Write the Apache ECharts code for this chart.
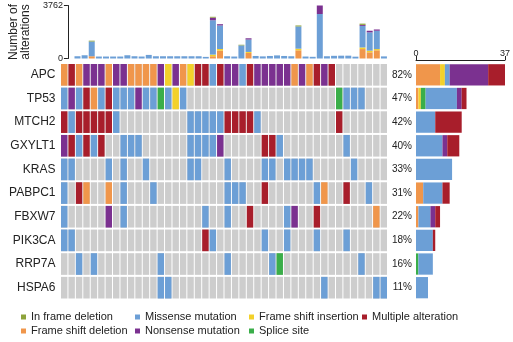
<!DOCTYPE html>
<html>
<head>
<meta charset="utf-8">
<script src="https://cdn.jsdelivr.net/npm/echarts@6/dist/echarts.min.js"></script>
<style>
html,body{margin:0;padding:0;background:#fff}
#chart{width:513px;height:342px}
</style>
</head>
<body>
<div id="chart"></div>
<script>
// Genes (rows) and their alteration frequency labels
const genes = ['APC', 'TP53', 'MTCH2', 'GXYLT1', 'KRAS', 'PABPC1', 'FBXW7', 'PIK3CA', 'RRP7A', 'HSPA6'];
const pctLabels = ['82%', '47%', '42%', '40%', '33%', '31%', '22%', '18%', '16%', '11%'];

// Per-sample alteration codes, one character per sample:
// F frame shift deletion, I frame shift insertion, M missense mutation,
// N nonsense mutation, X multiple alteration, S splice site, . none
const APC    = 'FXFNNNFNNFFFFNINFIXXMXNNMXNNNNNFNFXNX.......'.split('');
const TP53   = 'MNMXFMXMMMNMMSMIM....................SMMM...'.split('');
const MTCH2  = 'XMXXXXXM.........MMMMMXXXXM..........X......'.split('');
const GXYLT1 = 'NXMXMX..MMM......MMMMN.....XXM........M.....'.split('');
const KRAS   = 'MM....M.M..M.....MM...M....MM.MMMM.....M....'.split('');
const PABPC1 = 'M.XF..F.M...M.........MMM..X......MF..X..M..'.split('');
const FBXW7  = 'M.....N.M..........M..M..X....MN..X.......F.'.split('');
const PIK3CA = 'MM.................XM......M..M...M...M.....'.split('');
const RRP7A  = '..M.M........M........M.....MS..........M...'.split('');
const HSPA6  = '.............MM....................M......MM'.split('');

// Number of alterations per sample, split by type (top bars)
const topFrameDel = [0,0,160,0,0,0,0,0,0,0,0,0,0,0,0,0,0,0,0,160,560,0,0,0,395,0,0,0,0,0,0,580,0,0,0,0,0,0,0,0,670,440,580,0];
const topFrameIns = [0,0,0,0,0,0,0,0,0,0,0,0,0,0,0,0,0,0,0,115,115,0,0,0,70,0,0,0,0,0,0,115,0,0,0,0,0,0,0,0,115,115,90,0];
const topMissense = [160,230,1045,140,140,140,140,230,160,140,255,160,160,160,160,160,160,160,115,2440,1670,160,140,930,880,180,150,180,220,180,160,1580,140,120,3160,160,190,200,200,130,1530,1300,1300,150];
const topNonsense = [0,0,0,0,0,0,0,0,0,0,0,0,0,0,0,0,0,0,0,185,90,0,0,0,90,0,0,0,0,0,0,0,0,0,602,0,0,0,0,0,70,115,90,0];
const topInFrame  = [0,0,60,0,0,0,0,0,0,0,0,0,0,0,0,0,0,0,0,60,0,0,0,45,0,0,0,0,0,0,0,70,0,0,0,0,0,0,0,0,90,0,0,0];

const topMax = 3762;
const countMax = 37;

const rows = [APC, TP53, MTCH2, GXYLT1, KRAS, PABPC1, FBXW7, PIK3CA, RRP7A, HSPA6];
const samples = APC.map((_, i) => 'S' + (i + 1));

const GREY = '#CDCDCD';
const types = [
  { code: 'F', name: 'Frame shift deletion',  color: '#F0964B' },
  { code: 'I', name: 'Frame shift insertion', color: '#F3D12B' },
  { code: 'S', name: 'Splice site',           color: '#3AAE49' },
  { code: 'M', name: 'Missense mutation',     color: '#6C9FD6' },
  { code: 'N', name: 'Nonsense mutation',     color: '#7B3190' },
  { code: 'X', name: 'Multiple alteration',   color: '#A81E2B' }
];
const colorOf = {};
types.forEach(t => { colorOf[t.name] = t.color; });
colorOf['In frame deletion'] = '#8DA33B';

const FONT = 'Liberation Sans, Arial, sans-serif';
const TXT = '#222';

// one cell of the oncoprint matrix
function cell(params, api) {
  const p = api.coord([api.value(0), api.value(1)]);
  const s = api.size([1, 1]);
  return {
    type: 'rect',
    shape: { x: p[0] - s[0] / 2 + 0.5, y: p[1] - s[1] / 2 + 1, width: s[0] - 1, height: s[1] - 2 },
    style: { fill: api.visual('color') }
  };
}

const series = [];

// top stacked bars
[['Frame shift deletion', topFrameDel], ['Frame shift insertion', topFrameIns],
 ['Missense mutation', topMissense], ['Nonsense mutation', topNonsense],
 ['In frame deletion', topInFrame]].forEach(([name, vals]) => {
  series.push({
    name, type: 'bar', xAxisIndex: 0, yAxisIndex: 0, stack: 'top',
    barCategoryGap: '16%', data: vals,
    itemStyle: { color: colorOf[name] }
  });
});

// matrix background
const bgCells = [];
rows.forEach((r, gi) => r.forEach((_, si) => bgCells.push([si, gi])));
series.push({
  type: 'custom', xAxisIndex: 1, yAxisIndex: 1, silent: true,
  renderItem: cell, encode: { x: 0, y: 1 }, data: bgCells,
  itemStyle: { color: GREY }
});

// matrix alterations, one series per type
types.forEach(t => {
  const d = [];
  rows.forEach((r, gi) => r.forEach((c, si) => { if (c === t.code) d.push([si, gi]); }));
  series.push({
    name: t.name, type: 'custom', xAxisIndex: 1, yAxisIndex: 1,
    renderItem: cell, encode: { x: 0, y: 1 }, data: d,
    itemStyle: { color: t.color }
  });
});

// right stacked bars: altered samples per gene
types.forEach(t => {
  series.push({
    name: t.name, type: 'bar', xAxisIndex: 2, yAxisIndex: 2, stack: 'gene',
    barCategoryGap: '10%',
    data: rows.map(r => r.filter(c => c === t.code).length),
    itemStyle: { color: t.color }
  });
});

const legendBase = {
  orient: 'vertical', top: 310, padding: 0, itemGap: 0,
  itemWidth: 5, itemHeight: 5, icon: 'rect', selectedMode: false,
  textStyle: { fontFamily: FONT, fontSize: 11, color: TXT, lineHeight: 14 }
};

const option = {
  animation: false,
  backgroundColor: '#fff',
  textStyle: { fontFamily: FONT },
  grid: [
    { left: 60.5, right: 125.5, top: 5.5, bottom: 283.5 },
    { left: 60.5, right: 125.5, top: 63, bottom: 42.5 },
    { left: 416, right: 5.5, top: 63, bottom: 42.5 }
  ],
  xAxis: [
    { gridIndex: 0, type: 'category', data: samples, show: false },
    { gridIndex: 1, type: 'category', data: samples, show: false },
    {
      gridIndex: 2, type: 'value', position: 'top', offset: 3,
      min: 0, max: countMax, interval: countMax,
      axisLine: { show: true, lineStyle: { color: '#222', width: 1 } },
      axisTick: { show: true, length: 4, lineStyle: { color: '#222' } },
      axisLabel: { fontSize: 9, color: TXT, margin: 2 },
      splitLine: { show: false }
    }
  ],
  yAxis: [
    {
      gridIndex: 0, type: 'value', min: 0, max: topMax, interval: topMax, offset: 6,
      name: 'Number of\nalterations', nameLocation: 'middle', nameRotate: 90, nameGap: 29,
      nameTextStyle: { fontSize: 12, color: TXT, lineHeight: 12 },
      axisLine: { show: true, lineStyle: { color: '#222', width: 1 } },
      axisTick: { show: true, length: 4, lineStyle: { color: '#222' } },
      axisLabel: { fontSize: 9, color: TXT, margin: 5, formatter: v => String(v) },
      splitLine: { show: false }
    },
    {
      gridIndex: 1, type: 'category', data: genes, inverse: true,
      axisLine: { show: false }, axisTick: { show: false },
      axisLabel: { fontSize: 12, color: TXT, margin: 5 }
    },
    {
      gridIndex: 2, type: 'category', data: genes, inverse: true,
      axisLine: { show: false }, axisTick: { show: false },
      axisLabel: { fontSize: 10, color: TXT, margin: 4, formatter: (v, i) => pctLabels[i] }
    }
  ],
  legend: [
    Object.assign({}, legendBase, { left: 21, data: ['In frame deletion', 'Frame shift deletion'] }),
    Object.assign({}, legendBase, { left: 135, data: ['Missense mutation', 'Nonsense mutation'] }),
    Object.assign({}, legendBase, { left: 249, data: ['Frame shift insertion', 'Splice site'] }),
    Object.assign({}, legendBase, { left: 362, data: ['Multiple alteration'] })
  ],
  series
};

const chart = echarts.init(document.getElementById('chart'), null, { renderer: 'canvas' });
chart.setOption(option);
</script>
</body>
</html>
